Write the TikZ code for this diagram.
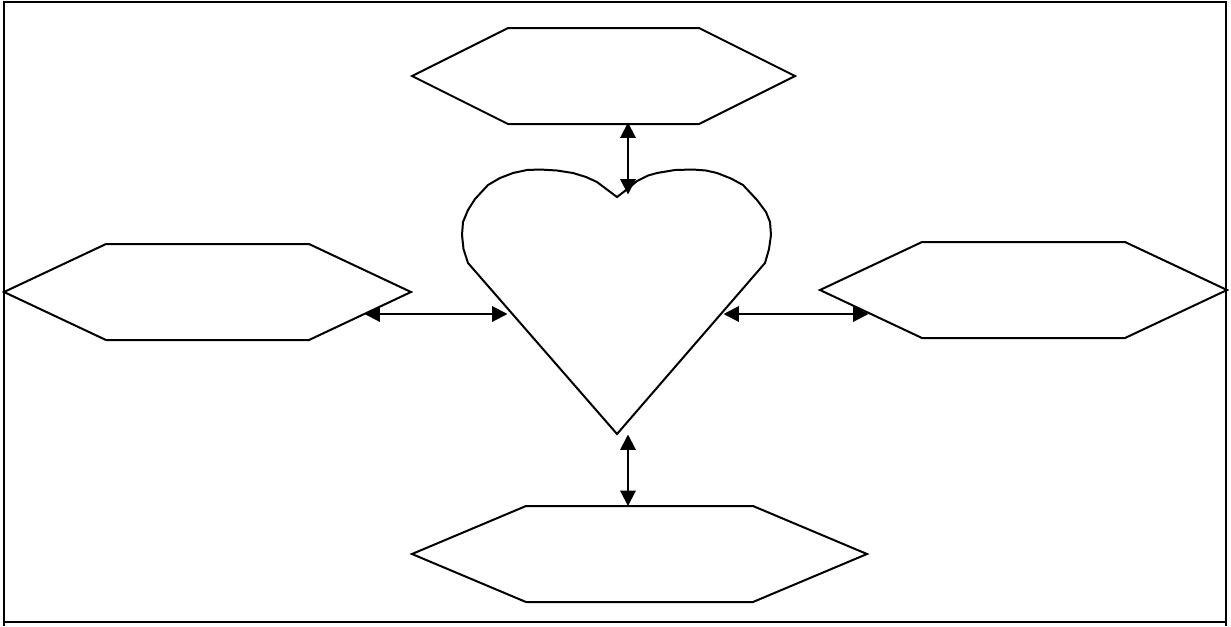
\documentclass[tikz,border=0pt]{standalone}
\usetikzlibrary{arrows.meta}
\tikzset{
  px/.style={x=0.75pt,y=-0.75pt},
  outline/.style={draw=black,line width=1.5pt,line join=miter},
  link/.style={draw=black,line width=1.5pt,{Triangle[length=11.5pt,width=11.5pt]}-{Triangle[length=11.5pt,width=11.5pt]}}
}
\begin{document}
\begin{tikzpicture}[px]
\useasboundingbox[fill=white] (0,0) rectangle (1231,626);
% frame
\draw[outline] (4,626) -- (4,2) -- (1226,2) -- (1226,626);
\draw[outline] (4,622) -- (1226,622);
% hexagons
\draw[outline] (412,76) -- (508,28) -- (699,28) -- (795,76) -- (699,124) -- (508,124) -- cycle;
\draw[outline] (4,292) -- (106,244) -- (309,244) -- (411,292) -- (309,340) -- (106,340) -- cycle;
\draw[outline] (820,290) -- (922,242) -- (1125,242) -- (1227,290) -- (1125,338) -- (922,338) -- cycle;
\draw[outline] (412,554) -- (526,506) -- (753,506) -- (867,554) -- (753,602) -- (526,602) -- cycle;
% heart
\draw[outline] (617,434) -- (468,263)
  -- (463.5,249) -- (462,235) -- (463,222) -- (468,210) -- (475,199) -- (488,185)
  -- (500,178) -- (513,173) -- (527,170) -- (540,169.5) -- (557,170.5) -- (573,173) -- (586,177) -- (597,182) -- (617,197)
  -- (630,187) -- (637,181) -- (648,175.5) -- (657,173) -- (675,170) -- (693,169.5) -- (706,170.5) -- (717,173) -- (731,178.5) -- (743,185)
  -- (757,200) -- (766,212) -- (770,222) -- (771,235) -- (769,249) -- (765,263) -- cycle;
% connector ends
\coordinate (topA) at (628,122.5);
\coordinate (topB) at (628,194.5);
\coordinate (leftA) at (364.5,314);
\coordinate (leftB) at (507.5,314);
\coordinate (rightA) at (723.5,314);
\coordinate (rightB) at (868.5,314);
\coordinate (botA) at (628,434.5);
\coordinate (botB) at (628,506);
\draw[link] (topA) -- (topB);
\draw[link] (leftA) -- (leftB);
\draw[link] (rightA) -- (rightB);
\draw[link] (botA) -- (botB);
\end{tikzpicture}
\end{document}
